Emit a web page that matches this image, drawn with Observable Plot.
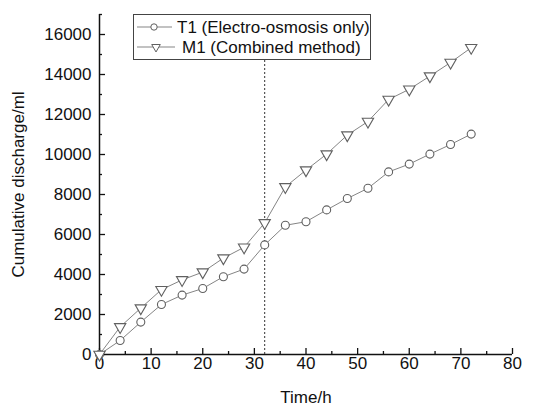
<!DOCTYPE html>
<html><head><meta charset="utf-8">
<script src="https://cdn.jsdelivr.net/npm/d3@7"></script>
<script src="https://cdn.jsdelivr.net/npm/@observablehq/plot@0.6"></script>
<style>
body{margin:0;background:#fff;font-family:"Liberation Sans",Arial,sans-serif}
#wrap{position:relative;width:535px;height:406px}
#wrap svg{position:absolute;left:0;top:0}
</style></head><body><div id="wrap"></div>
<script>
const time = [0,4,8,12,16,20,24,28,32,36,40,44,48,52,56,60,64,68,72];
const t1 = [0,700,1620,2500,2970,3300,3890,4270,5480,6460,6640,7230,7800,8310,9130,9520,10020,10500,11020];
const m1 = [0,1380,2320,3240,3730,4120,4820,5360,6580,8380,9220,10020,10970,11650,12750,13260,13920,14600,15340];
const seriesNames = ["T1 (Electro-osmosis only)", "M1 (Combined method)"];
const xMajor = [0,10,20,30,40,50,60,70,80];
const xMinor = [5,15,25,35,45,55,65,75];
const yMajor = [0,2000,4000,6000,8000,10000,12000,14000,16000];
const yMinor = [1000,3000,5000,7000,9000,11000,13000,15000,17000];
const xMax = 80, yMax = 17000;
const switchTime = 32, switchTop = 14700;
const xLabel = "Time/h", yLabel = "Cumulative discharge/ml";

const dataT1 = time.map((t,i)=>({t, v:t1[i]}));
const dataM1 = time.map((t,i)=>({t, v:m1[i]}));

const lineColor = "#858585", markColor = "#606060";
const blank = () => "";

const chart = Plot.plot({
  width: 535, height: 406,
  marginLeft: 99, marginRight: 23, marginTop: 14, marginBottom: 52,
  style: {fontFamily: '"Liberation Sans", Arial, sans-serif', fontSize: "17px", background: "white", color: "#111"},
  x: {domain: [0, xMax]},
  y: {domain: [0, yMax]},
  marks: [
    Plot.axisX({ticks: xMajor, tickSize: 0, tickPadding: 2, tickFormat: "d", label: null, fontSize: 17}),
    Plot.axisX({ticks: xMajor, tickSize: 6, dy: -6, tickFormat: blank, label: null, strokeWidth: 1.3}),
    Plot.axisX({ticks: xMinor, tickSize: 3, dy: -3, tickFormat: blank, label: null, strokeWidth: 1.3}),
    Plot.axisY({ticks: yMajor, tickSize: 0, tickPadding: 8, tickFormat: "d", label: null, fontSize: 17}),
    Plot.axisY({ticks: yMajor, tickSize: 6, dx: 6, tickFormat: blank, label: null, strokeWidth: 1.3}),
    Plot.axisY({ticks: yMinor, tickSize: 3, dx: 3, tickFormat: blank, label: null, strokeWidth: 1.3}),
    Plot.ruleY([0], {x1: 0, x2: xMax, stroke: "#111", strokeWidth: 1.5}),
    Plot.ruleX([0], {y1: 0, y2: yMax, stroke: "#111", strokeWidth: 1.5}),
    Plot.ruleX([switchTime], {y1: 0, y2: switchTop, stroke: "#333", strokeWidth: 1, strokeDasharray: "2,2"}),
    Plot.line(dataT1, {x: "t", y: "v", stroke: lineColor, strokeWidth: 1}),
    Plot.line(dataM1, {x: "t", y: "v", stroke: lineColor, strokeWidth: 1}),
    Plot.dot(dataT1, {x: "t", y: "v", r: 4, fill: "white", stroke: markColor, strokeWidth: 1.1}),
    Plot.dot(dataM1, {x: "t", y: "v", symbol: "triangle", rotate: 180, r: 4.2, fill: "white", stroke: markColor, strokeWidth: 1.1}),
    Plot.text([xLabel], {text: d => d, frameAnchor: "bottom", textAnchor: "middle", lineAnchor: "bottom", dy: 48, fontSize: 17, fill: "#111"}),
    Plot.text([yLabel], {text: d => d, frameAnchor: "left", textAnchor: "middle", lineAnchor: "middle", dx: -81, rotate: -90, fontSize: 17, fill: "#111"})
  ]
});
document.getElementById("wrap").appendChild(chart);

// Legend overlay
const lg = d3.select("#wrap").append("svg").attr("width", 535).attr("height", 406)
  .style("pointer-events", "none").style("font-family", '"Liberation Sans", Arial, sans-serif');
lg.append("rect").attr("x", 133.5).attr("y", 14.5).attr("width", 237).attr("height", 45)
  .attr("fill", "white").attr("stroke", "#444").attr("stroke-width", 1);
const rows = [
  {y: 27, x1: 137, x2: 172, sx: 154, tx: 177, sym: "circle"},
  {y: 47, x1: 137, x2: 175, sx: 156, tx: 182, sym: "triangle"}
];
rows.forEach((r, i) => {
  lg.append("line").attr("x1", r.x1).attr("x2", r.x2).attr("y1", r.y).attr("y2", r.y)
    .attr("stroke", lineColor).attr("stroke-width", 1);
  const sym = r.sym === "circle" ? d3.symbolCircle : d3.symbolTriangle;
  lg.append("path").attr("d", d3.symbol(sym, Math.PI * 3.2 * 3.2)())
    .attr("transform", `translate(${r.sx},${r.y}) rotate(${r.sym === "triangle" ? 180 : 0})`)
    .attr("fill", "white").attr("stroke", markColor).attr("stroke-width", 1);
  lg.append("text").attr("x", r.tx).attr("y", r.y).attr("dy", "0.35em")
    .attr("font-size", 17).attr("fill", "#111").text(seriesNames[i]);
});
</script>
</body></html>
